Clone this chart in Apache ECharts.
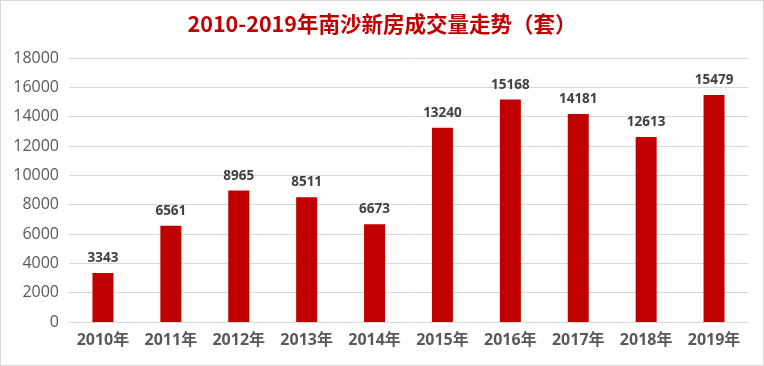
<!DOCTYPE html>
<html><head><meta charset="utf-8">
<script src="https://cdn.jsdelivr.net/npm/echarts@6/dist/echarts.min.js"></script>
<style>html,body{margin:0;padding:0;background:#fff}#c{width:764px;height:366px;box-sizing:border-box;border:1px solid #d9d9d9}</style>
</head><body><div id="c"></div>
<script>
const titleText = '2010-2019年南沙新房成交量走势（套）';
const categories = ['2010年','2011年','2012年','2013年','2014年','2015年','2016年','2017年','2018年','2019年'];
const values = [3343, 6561, 8965, 8511, 6673, 13240, 15168, 14181, 12613, 15479];
const yTicks = [0, 2000, 4000, 6000, 8000, 10000, 12000, 14000, 16000, 18000];
const chart = echarts.init(document.getElementById('c'), null, {renderer:'canvas'});
const ff = '"Open Sans","Noto Sans CJK SC",sans-serif';
chart.setOption({
  animation:false,
  title:{text:titleText,left:'center',top:7,textStyle:{color:'#C00000',fontSize:21.5,fontWeight:'bold',fontFamily:'"Noto Sans CJK SC",sans-serif'}},
  grid:{left:68,right:15,top:57,bottom:43},
  xAxis:{type:'category',data:categories,
    axisLine:{lineStyle:{color:'#d9d9d9'}},axisTick:{show:false},
    axisLabel:{interval:0,color:'#595959',fontSize:16,fontWeight:'bold',margin:10,fontFamily:ff}},
  yAxis:{type:'value',min:yTicks[0],max:yTicks[yTicks.length-1],interval:2000,
    axisLine:{show:false},axisTick:{show:false},
    splitLine:{lineStyle:{color:'#d9d9d9'}},
    axisLabel:{color:'#595959',fontSize:16,margin:10,fontFamily:ff,formatter:v=>String(v)}},
  series:[{type:'bar',data:values,barWidth:21,itemStyle:{color:'#C00000'},
    label:{show:true,position:'top',distance:8,color:'#404040',fontSize:13.5,fontWeight:'bold',fontFamily:ff}}]
});
</script></body></html>
